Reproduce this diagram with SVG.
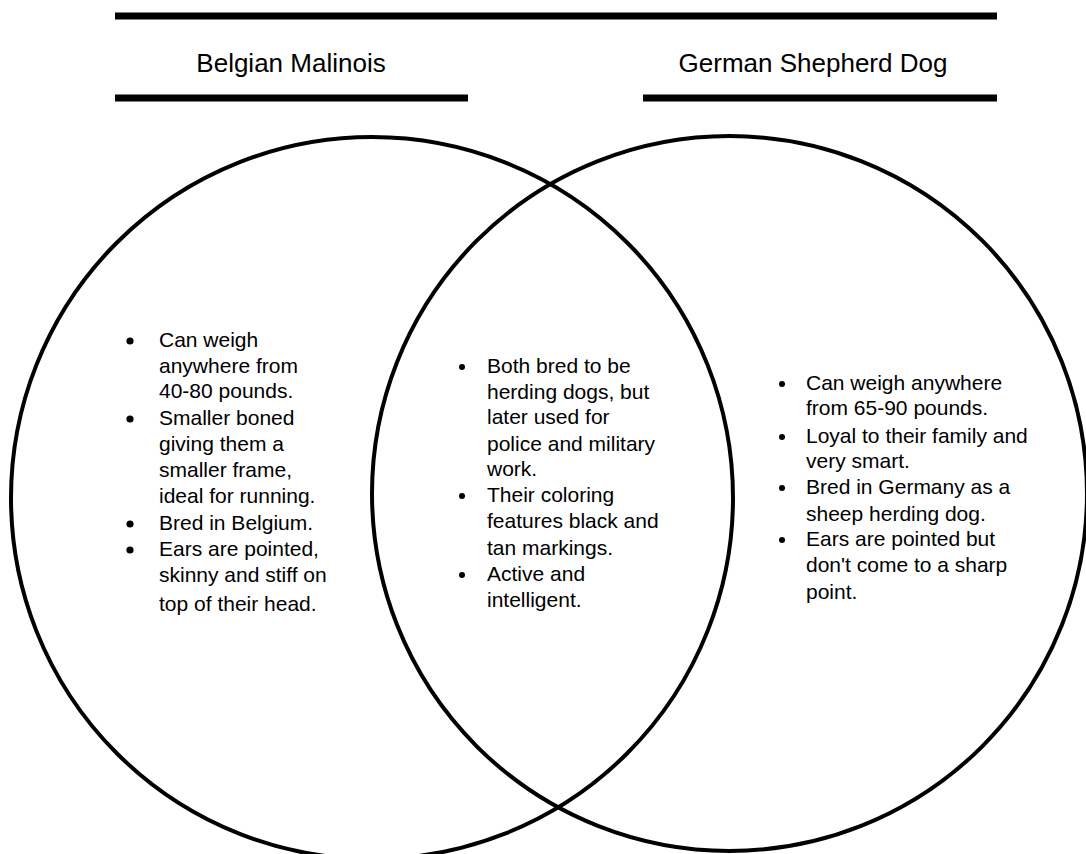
<svg xmlns="http://www.w3.org/2000/svg" width="1086" height="854" viewBox="0 0 1086 854">
<style>
  .bar { stroke: #000; stroke-width: 7; fill: none; }
  .ring { stroke: #000; stroke-width: 4; fill: none; }
  .title { font-family: "Liberation Sans", Arial, sans-serif; font-size: 26px; fill: #000; text-anchor: middle; }
  .item { font-family: "Liberation Sans", Arial, sans-serif; font-size: 21px; fill: #000; }
  .dot { fill: #000; }
</style>
<rect width="1086" height="854" fill="#fff"/>
<g id="header">
  <line class="bar" x1="115" y1="16" x2="997" y2="16"/>
  <g id="title-left">
    <text class="title" x="291" y="72">Belgian Malinois</text>
    <line class="bar" x1="115" y1="98" x2="468" y2="98"/>
  </g>
  <g id="title-right">
    <text class="title" x="813" y="72">German Shepherd Dog</text>
    <line class="bar" x1="643" y1="98" x2="997" y2="98"/>
  </g>
</g>
<g id="circle-left">
  <circle class="ring" cx="372" cy="498" r="361"/>
</g>
<g id="circle-right">
  <circle class="ring" cx="729.5" cy="493.5" r="357.5"/>
</g>
<g id="list-left">
  <circle class="dot" cx="130" cy="341" r="3.6"/>
  <circle class="dot" cx="130" cy="419" r="3.6"/>
  <circle class="dot" cx="130" cy="524" r="3.6"/>
  <circle class="dot" cx="130" cy="550" r="3.6"/>
  <text class="item" x="159" y="347">Can weigh</text>
  <text class="item" x="159" y="373">anywhere from</text>
  <text class="item" x="159" y="398">40-80 pounds.</text>
  <text class="item" x="159" y="425">Smaller boned</text>
  <text class="item" x="159" y="451">giving them a</text>
  <text class="item" x="159" y="477">smaller frame,</text>
  <text class="item" x="159" y="503">ideal for running.</text>
  <text class="item" x="159" y="530">Bred in Belgium.</text>
  <text class="item" x="159" y="556">Ears are pointed,</text>
  <text class="item" x="159" y="582">skinny and stiff on</text>
  <text class="item" x="159" y="611">top of their head.</text>
</g>
<g id="list-middle">
  <circle class="dot" cx="462" cy="367" r="3"/>
  <circle class="dot" cx="462" cy="496" r="3"/>
  <circle class="dot" cx="462" cy="575" r="3"/>
  <text class="item" x="487" y="373">Both bred to be</text>
  <text class="item" x="487" y="399">herding dogs, but</text>
  <text class="item" x="487" y="424">later used for</text>
  <text class="item" x="487" y="451">police and military</text>
  <text class="item" x="487" y="476">work.</text>
  <text class="item" x="487" y="502">Their coloring</text>
  <text class="item" x="487" y="528">features black and</text>
  <text class="item" x="487" y="555">tan markings.</text>
  <text class="item" x="487" y="581">Active and</text>
  <text class="item" x="487" y="607">intelligent.</text>
</g>
<g id="list-right">
  <circle class="dot" cx="782" cy="384" r="3"/>
  <circle class="dot" cx="782" cy="437" r="3"/>
  <circle class="dot" cx="782" cy="488" r="3"/>
  <circle class="dot" cx="782" cy="540" r="3"/>
  <text class="item" x="806" y="390">Can weigh anywhere</text>
  <text class="item" x="806" y="415">from 65-90 pounds.</text>
  <text class="item" x="806" y="443">Loyal to their family and</text>
  <text class="item" x="806" y="468">very smart.</text>
  <text class="item" x="806" y="494">Bred in Germany as a</text>
  <text class="item" x="806" y="521">sheep herding dog.</text>
  <text class="item" x="806" y="546">Ears are pointed but</text>
  <text class="item" x="806" y="572">don't come to a sharp</text>
  <text class="item" x="806" y="599">point.</text>
</g>
<g id="connectors"></g>
</svg>
